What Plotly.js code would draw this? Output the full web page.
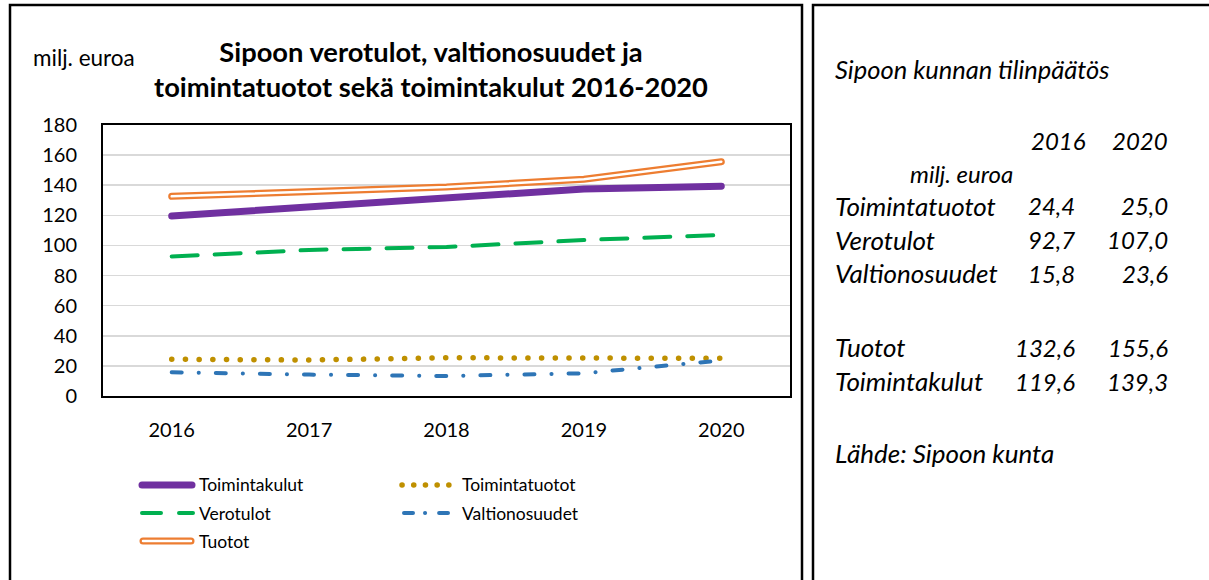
<!DOCTYPE html>
<html>
<head>
<meta charset="utf-8">
<script src="https://cdn.plot.ly/plotly-3.0.1.min.js"></script>
<style>
  html, body { margin: 0; padding: 0; background: #fff; }
  #chart { width: 1209px; height: 580px; }
  .scatterlayer .js-line { stroke-linecap: round; }
  .shapelayer path { stroke-linecap: round; }
</style>
</head>
<body>
<div id="chart"></div>
<script>
// ---- data ----
const years = ['2016', '2017', '2018', '2019', '2020'];
const toimintakulut = [119.6, 125.2, 131.4, 137.5, 139.3];
const toimintatuotot = [24.4, 23.9, 25.4, 25.4, 25.0];
const verotulot = [92.7, 97.0, 99.0, 103.6, 107.0];
const valtionosuudet = [15.8, 14.2, 13.3, 15.1, 23.6];
const tuotot = [132.6, 135.8, 138.8, 144.0, 155.6];
const yTicks = [0, 20, 40, 60, 80, 100, 120, 140, 160, 180];

// side table
const tableYears = ['2016', '2020'];
const tableRows = ['Toimintatuotot', 'Verotulot', 'Valtionosuudet', 'Tuotot', 'Toimintakulut'];
const table2016 = ['24,4', '92,7', '15,8', '132,6', '119,6'];
const table2020 = ['25,0', '107,0', '23,6', '155,6', '139,3'];

// ---- layout helpers ----
const W = 1209, H = 580;
const px = x => x / W;
const py = y => 1 - y / H;
const FONT = 'Lato, "Open Sans", sans-serif';

const C = {
  purple: '#7030A0', gold: '#BF9000', green: '#00B050', blue: '#2E75B6', orange: '#ED7D31'
};

const traces = [
  { x: years, y: toimintakulut, name: 'Toimintakulut', mode: 'lines',
    line: { color: C.purple, width: 7 } },
  { x: years, y: toimintatuotot, name: 'Toimintatuotot', mode: 'lines',
    line: { color: C.gold, width: 5.5, dash: '0.1px,13.6px' } },
  { x: years, y: verotulot, name: 'Verotulot', mode: 'lines',
    line: { color: C.green, width: 4, dash: '26px,17px' } },
  { x: years, y: valtionosuudet, name: 'Valtionosuudet', mode: 'lines',
    line: { color: C.blue, width: 4, dash: '10px,17px,0.1px,17px' } },
  { x: years, y: tuotot, name: 'Tuotot', mode: 'lines',
    line: { color: C.orange, width: 7 } },
  { x: years, y: tuotot, name: 'Tuotot', mode: 'lines', showlegend: false,
    line: { color: '#ffffff', width: 2.5 } }
];

const shapes = [
  // panel frames
  { type: 'rect', xref: 'paper', yref: 'paper', x0: px(10), x1: px(802), y0: py(5), y1: py(595),
    line: { color: '#000', width: 2.5 } },
  { type: 'rect', xref: 'paper', yref: 'paper', x0: px(813), x1: px(1220), y0: py(5), y1: py(595),
    line: { color: '#000', width: 2.5 } },
  // legend samples
  { type: 'line', xref: 'paper', yref: 'paper', x0: px(142), x1: px(192), y0: py(485), y1: py(485),
    line: { color: C.purple, width: 7 } },
  { type: 'line', xref: 'paper', yref: 'paper', x0: px(402), x1: px(449), y0: py(485), y1: py(485),
    line: { color: C.gold, width: 5.5, dash: '0.1px,11.6px' } },
  { type: 'line', xref: 'paper', yref: 'paper', x0: px(142), x1: px(193), y0: py(513), y1: py(513),
    line: { color: C.green, width: 4, dash: '19px,18px' } },
  { type: 'line', xref: 'paper', yref: 'paper', x0: px(404), x1: px(448), y0: py(513), y1: py(513),
    line: { color: C.blue, width: 4, dash: '9px,12px,0.1px,14px' } },
  { type: 'line', xref: 'paper', yref: 'paper', x0: px(143), x1: px(191), y0: py(541), y1: py(541),
    line: { color: C.orange, width: 7 } },
  { type: 'line', xref: 'paper', yref: 'paper', x0: px(143), x1: px(191), y0: py(541), y1: py(541),
    line: { color: '#ffffff', width: 2.5 } }
];

const ann = (text, x, y, opts = {}) => Object.assign({
  text, xref: 'paper', yref: 'paper', x: px(x), y: py(y), showarrow: false,
  xanchor: 'left', yanchor: 'middle',
  font: { family: FONT, size: 17, color: '#000' }
}, opts);

const legendFont = { family: FONT, size: 17.5, color: '#000' };
const sideFont = { family: FONT, size: 26, color: '#000', style: 'italic' };
const numFont = { family: FONT, size: 24, color: '#000', style: 'italic' };

const annotations = [
  ann('milj. euroa', 31, 57, { font: { family: FONT, size: 22.5, color: '#000' } }),
  // legend texts
  ann(traces[0].name, 197, 485, { font: legendFont }),
  ann(traces[1].name, 460, 485, { font: legendFont }),
  ann(traces[2].name, 197, 513, { font: legendFont }),
  ann(traces[3].name, 460, 513, { font: legendFont }),
  ann(traces[4].name, 197, 541, { font: legendFont }),
  // side panel
  ann('Sipoon kunnan tilinpäätös', 833, 69, { font: Object.assign({}, sideFont, { size: 25.5 }) }),
  ann(tableYears[0], 1088, 140, { xanchor: 'right', font: numFont }),
  ann(tableYears[1], 1170, 140, { xanchor: 'right', font: numFont }),
  ann('milj. euroa', 908, 173, { font: Object.assign({}, sideFont, { size: 24 }) }),
  ann('Lähde: Sipoon kunta', 833, 453, { font: sideFont })
];
const rowY = [206, 240, 273, 347, 381];
tableRows.forEach((r, i) => {
  annotations.push(ann(r, 833, rowY[i], { font: sideFont }));
  annotations.push(ann(table2016[i], 1077, rowY[i], { xanchor: 'right', font: numFont }));
  annotations.push(ann(table2020[i], 1170, rowY[i], { xanchor: 'right', font: numFont }));
});

const layout = {
  width: W, height: H,
  margin: { l: 0, r: 0, t: 0, b: 0 },
  paper_bgcolor: '#fff', plot_bgcolor: '#fff',
  showlegend: false,
  title: {
    text: '<b>Sipoon verotulot, valtionosuudet ja<br>toimintatuotot sekä toimintakulut 2016-2020</b>',
    x: px(431), xanchor: 'center', y: py(62), yanchor: 'middle',
    font: { family: FONT, size: 27.3, color: '#000' }
  },
  xaxis: {
    type: 'category', domain: [px(103), px(790)], range: [-0.5, 4.5],
    showgrid: false, zeroline: false, showline: true, mirror: true,
    linecolor: '#000', linewidth: 2, ticks: '', ticklabelstandoff: 15,
    tickfont: { family: FONT, size: 20, color: '#000' }, fixedrange: true
  },
  yaxis: {
    domain: [py(396), py(125)], range: [0, 180], tickvals: yTicks,
    showgrid: true, gridcolor: '#D9D9D9', gridwidth: 1.5, zeroline: false,
    showline: true, mirror: true, linecolor: '#000', linewidth: 2,
    ticks: '', ticklabelstandoff: 20,
    tickfont: { family: FONT, size: 20, color: '#000' }, fixedrange: true
  },
  shapes, annotations
};

Plotly.newPlot('chart', traces, layout, { displayModeBar: false, staticPlot: true });
</script>
</body>
</html>
